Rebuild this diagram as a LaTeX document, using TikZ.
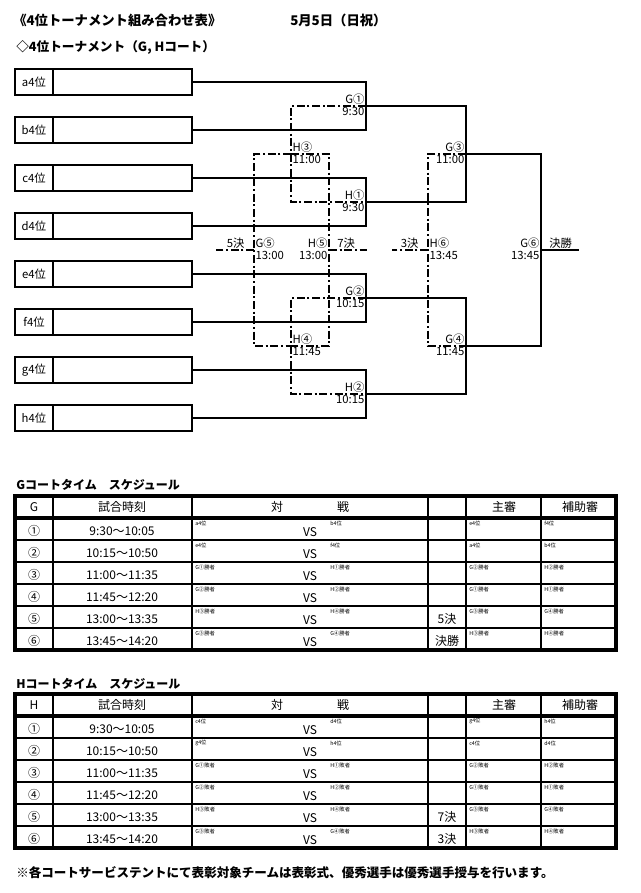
\documentclass[tikz,border=0pt]{standalone}
\usepackage{fontspec}
\setmainfont{Noto Sans CJK JP}
\usetikzlibrary{positioning}
\tikzset{%
    team label/.style={
      rectangle,
      draw,
      line width=1.9pt,
      outer sep=0pt,
      inner sep=0pt,
      minimum width=28.5pt,
      minimum height=19.5pt,
      font=\fontsize{8.5}{9}\selectfont
    },
    team slot/.style={
      rectangle,
      draw,
      line width=1.9pt,
      outer sep=0pt,
      minimum width=104.25pt,
      minimum height=19.5pt
    },
    win line/.style={line width=1.9pt},
    lose line/.style={line width=1.7pt, dash pattern=on 6pt off 2pt on 1.5pt off 2pt},
    match/.style={font=\fontsize{8.5}{8.5}\selectfont, inner sep=1pt},
    heading/.style={font=\bfseries\fontsize{10}{10}\selectfont, anchor=west, inner sep=0pt},
    cell/.style={font=\fontsize{9}{9}\selectfont, inner sep=0pt},
    tiny cell/.style={font=\fontsize{4}{4}\selectfont, anchor=west, inner sep=0pt},
    grid/.style={line width=1.8pt},
    frame/.style={line width=2.6pt}
  }

\begin{document}
\begin{tikzpicture}[x=0.75pt, y=-0.75pt]
  \useasboundingbox (0,0) rectangle (640,893);

  \node[heading] (title) at (13,20) {《4位トーナメント組み合わせ表》};
  \node[heading] (date) at (290,20) {5月5日（日祝）};
  \node[heading, font=\bfseries\fontsize{9.5}{10}\selectfont] (sub) at (16,47) {◇4位トーナメント（G, Hコート）};

  \node[team label] (la) at (34,82) {a4位};
  \node[team slot, right=0pt of la] (ta) {};
  \node[team label] (lb) at (34,130) {b4位};
  \node[team slot, right=0pt of lb] (tb) {};
  \node[team label] (lc) at (34,178) {c4位};
  \node[team slot, right=0pt of lc] (tc) {};
  \node[team label] (ld) at (34,226) {d4位};
  \node[team slot, right=0pt of ld] (td) {};
  \node[team label] (le) at (34,274) {e4位};
  \node[team slot, right=0pt of le] (te) {};
  \node[team label] (lf) at (34,322) {f4位};
  \node[team slot, right=0pt of lf] (tf) {};
  \node[team label] (lg) at (34,370) {g4位};
  \node[team slot, right=0pt of lg] (tg) {};
  \node[team label] (lh) at (34,418) {h4位};
  \node[team slot, right=0pt of lh] (th) {};

  \coordinate (g1) at (366,106);
  \coordinate (h1) at (366,202);
  \coordinate (g2) at (366,298);
  \coordinate (h2) at (366,394);
  \coordinate (g3) at (466,154);
  \coordinate (g4) at (466,346);
  \coordinate (g6) at (541,250);
  \coordinate (fin) at (579,250);
  \coordinate (h3) at (291,154);
  \coordinate (h4) at (291,346);
  \coordinate (g5) at (254,250);
  \coordinate (h5) at (329,250);
  \coordinate (h6) at (428,250);
  \coordinate (end5) at (216,250);
  \coordinate (end7) at (367,250);
  \coordinate (end3) at (392,250);

  \draw[win line] (ta.east) -| (g1) |- (tb.east);
  \draw[win line] (tc.east) -| (h1) |- (td.east);
  \draw[win line] (te.east) -| (g2) |- (tf.east);
  \draw[win line] (tg.east) -| (h2) |- (th.east);
  \draw[win line] (g1) -| (g3) |- (h1);
  \draw[win line] (g2) -| (g4) |- (h2);
  \draw[win line] (g3) -| (g6) |- (g4);
  \draw[win line] (g6) -- (fin);

  \draw[lose line] (g1) -| (h3) |- (h1);
  \draw[lose line] (g2) -| (h4) |- (h2);
  \draw[lose line] (h3) -| (g5) |- (h4);
  \draw[lose line] (h3) -| (h5) |- (h4);
  \draw[lose line] (g3) -| (h6) |- (g4);
  \draw[lose line] (g5) -- (end5);
  \draw[lose line] (h5) -- (end7);
  \draw[lose line] (h6) -- (end3);

  \node[match, above left=0pt of g1] (mg1) {G①};
  \node[match, below left=0pt of g1] (sg1) {9:30};
  \node[match, above left=0pt of h1] (mh1) {H①};
  \node[match, below left=0pt of h1] (sh1) {9:30};
  \node[match, above left=0pt of g2] (mg2) {G②};
  \node[match, below left=0pt of g2] (sg2) {10:15};
  \node[match, above left=0pt of h2] (mh2) {H②};
  \node[match, below left=0pt of h2] (sh2) {10:15};
  \node[match, above left=0pt of g3] (mg3) {G③};
  \node[match, below left=0pt of g3] (sg3) {11:00};
  \node[match, above left=0pt of g4] (mg4) {G④};
  \node[match, below left=0pt of g4] (sg4) {11:45};
  \node[match, above right=0pt of h3] (mh3) {H③};
  \node[match, below right=0pt of h3] (sh3) {11:00};
  \node[match, above right=0pt of h4] (mh4) {H④};
  \node[match, below right=0pt of h4] (sh4) {11:45};
  \node[match, above right=0pt of g5] (mg5) {G⑤};
  \node[match, below right=0pt of g5] (sg5) {13:00};
  \node[match, above left=0pt of h5] (mh5) {H⑤};
  \node[match, below left=0pt of h5] (sh5) {13:00};
  \node[match, above right=0pt of h6] (mh6) {H⑥};
  \node[match, below right=0pt of h6] (sh6) {13:45};
  \node[match, above left=0pt of g6] (mg6) {G⑥};
  \node[match, below left=0pt of g6] (sg6) {13:45};

  \node[match, above left=0pt and 6pt of g5] (k5) {5決};
  \node[match, above right=0pt and 5pt of h5] (k7) {7決};
  \node[match, above left=0pt and 6pt of h6] (k3) {3決};
  \node[match, above right=0pt and 5pt of g6] (kf) {決勝};

  \node[heading, font=\bfseries\fontsize{9}{9}\selectfont] (gtitle) at (16,485) {Gコートタイム　スケジュール};
  \node[heading, font=\bfseries\fontsize{9}{9}\selectfont] (htitle) at (16,684) {Hコートタイム　スケジュール};

  \foreach \top/\court in {496/G, 694/H} {
    \draw[frame] (15,\top) rectangle (616,\top+154);
    \draw[frame] (15,\top+22) -- (616,\top+22);
    \foreach \k in {2,...,6} \draw[grid] (15,\top+22*\k) -- (616,\top+22*\k);
    \foreach \cx in {53,192,428,466,541} \draw[grid] (\cx,\top) -- (\cx,\top+154);
    \node[cell] (c\court) at (34,\top+11) {\court};
    \node[cell] (tm\court) at (122,\top+11) {試合時刻};
    \node[cell] (ta\court) at (277,\top+11) {対};
    \node[cell] (tb\court) at (343,\top+11) {戦};
    \node[cell] (su\court) at (504,\top+11) {主審};
    \node[cell] (ho\court) at (580,\top+11) {補助審};
  }

  \foreach \num/\tm/\pa/\pb/\note/\ra/\rb [count=\r] in {
      ①/9:30～10:05/a4位/b4位/{}/e4位/f4位,
      ②/10:15～10:50/e4位/f4位/{}/a4位/b4位,
      ③/11:00～11:35/G①勝者/H①勝者/{}/G②勝者/H②勝者,
      ④/11:45～12:20/G②勝者/H②勝者/{}/G①勝者/H①勝者,
      ⑤/13:00～13:35/H③勝者/H④勝者/5決/G③勝者/G④勝者,
      ⑥/13:45～14:20/G③勝者/G④勝者/決勝/H③勝者/H④勝者} {
    \node[cell] (gn\r) at (34,509+22*\r) {\num};
    \node[cell] (gt\r) at (122,509+22*\r) {\tm};
    \node[tiny cell] (gp\r) at (195,501+22*\r) {\pa};
    \node[cell] (gv\r) at (310,510+22*\r) {VS};
    \node[tiny cell] (gq\r) at (330,501+22*\r) {\pb};
    \node[cell] (gx\r) at (447,509+22*\r) {\note};
    \node[tiny cell] (gr\r) at (469,501+22*\r) {\ra};
    \node[tiny cell] (gs\r) at (544,501+22*\r) {\rb};
  }

  \foreach \num/\tm/\pa/\pb/\note/\ra/\rb [count=\r] in {
      ①/9:30～10:05/c4位/d4位/{}/g4位/h4位,
      ②/10:15～10:50/g4位/h4位/{}/c4位/d4位,
      ③/11:00～11:35/G①敗者/H①敗者/{}/G②敗者/H②敗者,
      ④/11:45～12:20/G②敗者/H②敗者/{}/G①敗者/H①敗者,
      ⑤/13:00～13:35/H③敗者/H④敗者/7決/G③敗者/G④敗者,
      ⑥/13:45～14:20/G③敗者/G④敗者/3決/H③敗者/H④敗者} {
    \node[cell] (hn\r) at (34,707+22*\r) {\num};
    \node[cell] (ht\r) at (122,707+22*\r) {\tm};
    \node[tiny cell] (hp\r) at (195,699+22*\r) {\pa};
    \node[cell] (hv\r) at (310,708+22*\r) {VS};
    \node[tiny cell] (hq\r) at (330,699+22*\r) {\pb};
    \node[cell] (hx\r) at (447,707+22*\r) {\note};
    \node[tiny cell] (hr\r) at (469,699+22*\r) {\ra};
    \node[tiny cell] (hs\r) at (544,699+22*\r) {\rb};
  }

  \node[heading, font=\bfseries\fontsize{9.4}{10}\selectfont] (foot) at (16,873) {※各コートサービステントにて表彰対象チームは表彰式、優秀選手は優秀選手授与を行います。};
\end{tikzpicture}
\end{document}
